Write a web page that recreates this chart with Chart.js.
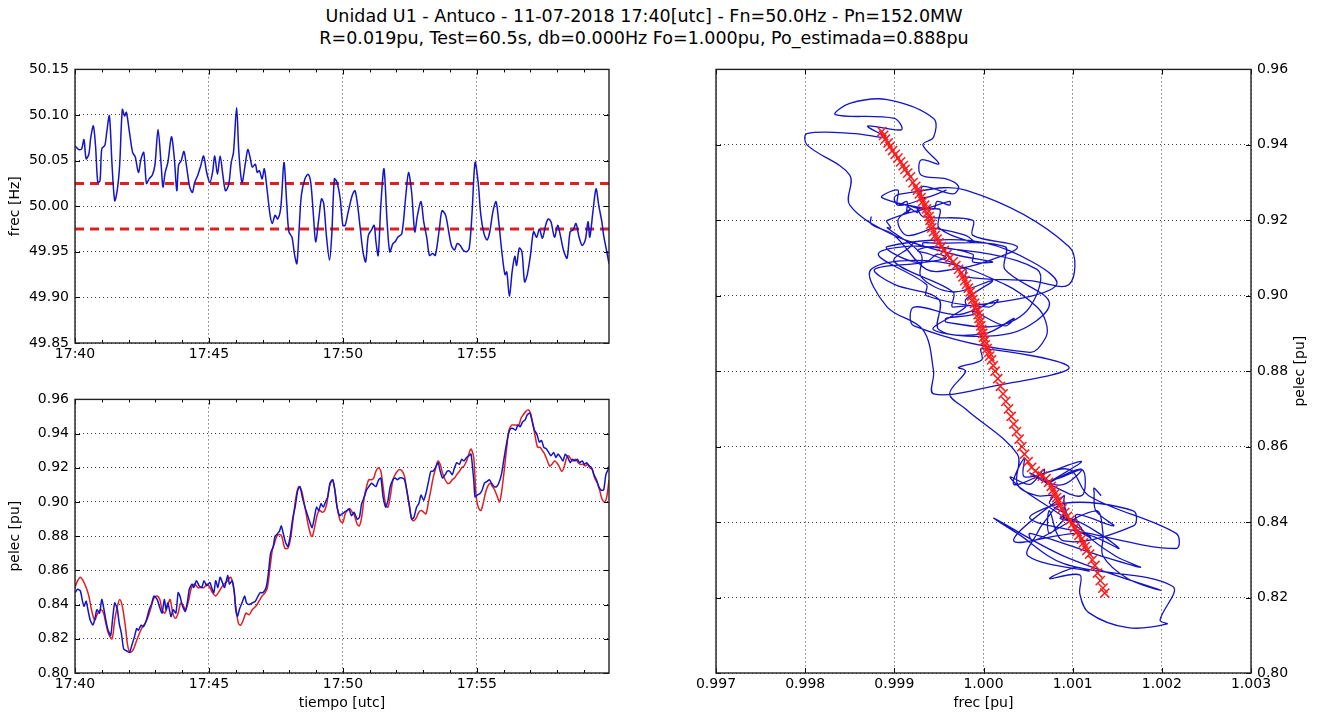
<!DOCTYPE html>
<html><head><meta charset="utf-8">
<script src="https://cdn.jsdelivr.net/npm/chart.js@4.4.1/dist/chart.umd.min.js"></script>
<style>
html,body{margin:0;padding:0;background:#fff;width:1317px;height:718px;overflow:hidden;}
#title{position:absolute;left:0;top:5px;width:1288px;text-align:center;font-family:'DejaVu Sans',sans-serif;font-size:17.5px;line-height:22px;color:#000;}
canvas{position:absolute;}
</style></head><body>
<div id="title">Unidad U1 - Antuco - 11-07-2018 17:40[utc] - Fn=50.0Hz - Pn=152.0MW<br>R=0.019pu, Test=60.5s, db=0.000Hz Fo=1.000pu, Po_estimada=0.888pu</div>
<canvas id="c1" width="625" height="315" style="left:0;top:55px"></canvas>
<canvas id="c2" width="625" height="333" style="left:0;top:385px"></canvas>
<canvas id="c3" width="627" height="663" style="left:690px;top:55px"></canvas>
<script>
// ---------- data ----------
const Fn = 50.0;
const tEnd = 1196;                       // seconds after 17:40
const tickSeconds = [0, 300, 600, 900];
const tickLabels = ['17:40', '17:45', '17:50', '17:55'];
const freqTicks = [49.85, 49.90, 49.95, 50.00, 50.05, 50.10, 50.15];
const pelecTicks = [0.80, 0.82, 0.84, 0.86, 0.88, 0.90, 0.92, 0.94, 0.96];
const frecPuTicks = [0.997, 0.998, 0.999, 1.000, 1.001, 1.002, 1.003];
const bandUpper = 50.025, bandLower = 49.975;

const freqTime = [0,9,15,20,25,31,35,41,46,51,56,60,67,71,77,83,89,95,100,106,111,115,122,129,135,142,148,154,160,166,173,179,186,193,197,202,208,216,222,228,232,238,244,250,257,263,268,275,282,288,295,302,308,313,319,325,331,337,344,350,355,362,367,374,381,387,392,397,404,408,413,419,424,430,437,442,448,454,461,468,474,479,486,492,497,502,507,515,522,528,534,539,546,552,557,563,570,575,581,587,594,600,605,612,621,627,633,639,645,651,657,664,670,674,679,685,692,699,705,712,717,723,732,741,747,754,761,767,775,781,788,794,801,807,816,822,830,837,843,850,856,863,869,877,883,889,896,903,909,916,923,929,936,943,949,956,963,967,973,979,985,989,995,1001,1007,1013,1020,1027,1034,1040,1047,1054,1060,1066,1074,1081,1087,1094,1102,1109,1116,1122,1129,1136,1143,1149,1153,1160,1167,1173,1180,1184,1191,1196];
const freqHz = [50.066,50.062,50.063,50.073,50.052,50.057,50.074,50.088,50.066,50.026,
50.028,50.063,50.067,50.081,50.099,50.045,50.006,50.019,50.045,50.106,
50.099,50.103,50.081,50.059,50.054,50.037,50.052,50.059,50.025,50.030,
50.034,50.045,50.084,50.045,50.021,50.037,50.048,50.076,50.055,50.017,
50.045,50.050,50.060,50.043,50.021,50.015,50.026,50.034,50.045,50.055,
50.037,50.026,50.037,50.055,50.035,50.055,50.035,50.017,50.023,50.048,
50.059,50.108,50.059,50.026,50.045,50.062,50.054,50.043,50.046,50.037,
50.039,50.030,50.041,50.019,49.990,49.981,49.990,49.986,49.999,50.048,
50.005,49.972,49.966,49.946,49.937,49.975,50.012,50.030,50.035,50.026,
49.990,49.961,49.986,50.008,50.003,49.968,49.941,49.968,50.030,50.026,
50.008,49.979,49.979,49.994,50.012,50.017,50.001,49.975,49.950,49.939,
49.968,49.974,49.979,49.961,49.946,50.001,50.041,49.983,49.950,49.959,
49.961,49.966,49.970,50.012,50.037,50.015,49.972,49.990,50.005,49.983,
49.965,49.946,49.948,49.946,49.975,49.995,49.990,49.972,49.957,49.952,
49.959,49.957,49.952,49.950,49.954,49.990,50.048,50.026,49.990,49.970,
49.963,49.972,49.994,50.005,49.983,49.950,49.925,49.928,49.901,49.928,
49.945,49.935,49.954,49.950,49.917,49.925,49.946,49.972,49.966,49.975,
49.965,49.979,49.986,49.983,49.966,49.979,49.968,49.952,49.943,49.972,
49.974,49.981,49.966,49.957,49.963,49.983,49.966,49.994,50.019,50.001,
49.983,49.968,49.950,49.937];

const pelecTime = [0,6,12,16,20,25,29,34,40,44,49,55,60,65,69,74,80,84,89,95,99,104,109,115,122,127,133,138,142,148,153,160,166,171,177,184,189,195,200,204,208,215,220,226,231,235,241,247,252,256,262,266,272,278,284,289,295,302,306,311,315,320,325,330,335,342,346,352,357,360,364,368,374,380,384,390,397,404,410,415,421,428,433,438,444,448,452,458,462,467,472,477,482,488,493,499,504,509,515,520,525,531,537,541,546,551,556,561,566,571,577,582,587,593,598,603,609,614,619,625,632,637,642,648,653,658,664,669,674,680,685,690,696,701,706,712,717,722,727,733,738,743,749,754,759,765,770,775,781,786,791,797,802,807,813,818,823,829,834,839,845,850,855,861,866,871,877,882,887,893,896,901,907,912,917,923,928,933,939,944,949,955,960,965,971,976,981,987,992,997,1003,1008,1013,1019,1024,1029,1034,1040,1045,1050,1056,1061,1066,1072,1077,1082,1088,1093,1098,1104,1109,1114,1120,1125,1130,1136,1141,1146,1152,1157,1162,1168,1173,1178,1184,1189,1194,1196];
const pelecMeas = [0.847,0.849,0.848,0.843,0.839,0.842,0.837,0.831,0.828,0.831,
0.837,0.835,0.843,0.837,0.831,0.825,0.822,0.831,0.841,0.837,
0.829,0.823,0.814,0.813,0.812,0.816,0.821,0.826,0.825,0.828,
0.827,0.831,0.837,0.840,0.845,0.843,0.839,0.835,0.843,0.837,
0.841,0.833,0.837,0.835,0.847,0.845,0.839,0.836,0.842,0.849,
0.852,0.850,0.854,0.851,0.850,0.854,0.851,0.853,0.850,0.847,
0.854,0.850,0.856,0.853,0.850,0.857,0.852,0.854,0.847,0.837,
0.833,0.837,0.841,0.845,0.841,0.840,0.841,0.842,0.845,0.847,
0.847,0.850,0.858,0.870,0.874,0.880,0.881,0.883,0.886,0.881,
0.876,0.874,0.880,0.891,0.897,0.907,0.909,0.903,0.897,0.893,
0.889,0.885,0.892,0.897,0.895,0.899,0.897,0.900,0.903,0.911,
0.913,0.907,0.897,0.892,0.893,0.894,0.895,0.896,0.892,0.894,
0.890,0.891,0.899,0.903,0.907,0.909,0.911,0.910,0.909,0.913,
0.914,0.903,0.897,0.901,0.909,0.913,0.914,0.913,0.914,0.914,
0.913,0.907,0.898,0.890,0.891,0.897,0.899,0.904,0.901,0.905,
0.911,0.918,0.918,0.920,0.923,0.918,0.914,0.916,0.918,0.918,
0.916,0.920,0.923,0.922,0.925,0.924,0.926,0.927,0.928,0.913,
0.903,0.904,0.905,0.907,0.911,0.912,0.913,0.911,0.909,0.909,
0.911,0.916,0.924,0.932,0.940,0.943,0.943,0.942,0.945,0.944,
0.947,0.948,0.951,0.952,0.947,0.942,0.940,0.935,0.936,0.932,
0.931,0.929,0.927,0.929,0.926,0.928,0.926,0.924,0.928,0.926,
0.923,0.925,0.924,0.925,0.923,0.924,0.922,0.923,0.921,0.920,
0.916,0.913,0.909,0.907,0.907,0.916,0.919,0.921];

const modelTime = [0,6,12,18,25,31,37,44,51,58,64,69,75,83,89,95,100,106,113,118,124,131,138,144,151,157,164,171,177,184,190,195,201,207,213,219,225,231,237,243,248,255,261,268,275,282,289,296,302,308,315,321,328,334,342,349,355,360,366,371,377,383,390,397,405,412,419,426,431,437,442,447,452,458,463,470,477,483,488,495,501,507,515,522,529,532,538,543,548,554,559,564,570,577,582,587,594,600,605,610,616,621,626,632,637,642,648,653,658,664,669,674,680,685,690,696,701,706,712,717,722,727,733,738,743,749,754,759,765,770,775,781,786,791,797,802,807,813,818,823,829,834,839,845,850,855,861,866,871,877,882,887,893,898,903,909,914,919,924,930,935,940,946,951,956,962,967,972,978,983,988,994,999,1004,1010,1015,1020,1026,1031,1036,1042,1047,1052,1058,1063,1068,1074,1079,1084,1090,1095,1100,1105,1111,1116,1121,1127,1132,1138,1143,1148,1153,1159,1164,1170,1175,1180,1186,1191,1196];
const pelecModel = [0.850,0.854,0.856,0.854,0.850,0.845,0.837,0.831,0.835,0.837,
0.835,0.829,0.823,0.820,0.831,0.839,0.843,0.839,0.827,0.816,
0.812,0.814,0.819,0.823,0.827,0.829,0.833,0.839,0.844,0.845,
0.843,0.837,0.835,0.839,0.843,0.835,0.832,0.835,0.841,0.839,
0.837,0.843,0.850,0.852,0.850,0.850,0.850,0.852,0.850,0.847,
0.845,0.847,0.850,0.852,0.854,0.856,0.850,0.839,0.829,0.828,
0.831,0.835,0.834,0.837,0.839,0.842,0.845,0.847,0.850,0.862,
0.872,0.876,0.880,0.881,0.880,0.873,0.873,0.879,0.889,0.903,
0.909,0.907,0.897,0.887,0.880,0.880,0.887,0.893,0.895,0.894,
0.895,0.899,0.909,0.913,0.907,0.897,0.889,0.888,0.893,0.895,
0.896,0.894,0.892,0.887,0.886,0.891,0.903,0.909,0.913,0.913,
0.914,0.918,0.920,0.918,0.909,0.898,0.897,0.903,0.913,0.916,
0.918,0.919,0.918,0.915,0.907,0.897,0.890,0.889,0.891,0.894,
0.895,0.894,0.893,0.899,0.907,0.914,0.919,0.924,0.922,0.917,
0.913,0.911,0.911,0.913,0.914,0.916,0.918,0.920,0.921,0.924,
0.928,0.931,0.926,0.905,0.897,0.895,0.899,0.905,0.909,0.911,
0.909,0.907,0.903,0.900,0.907,0.920,0.932,0.942,0.945,0.945,
0.945,0.945,0.949,0.951,0.953,0.954,0.952,0.945,0.938,0.932,
0.932,0.930,0.928,0.924,0.921,0.922,0.924,0.923,0.921,0.918,
0.920,0.925,0.927,0.925,0.924,0.925,0.923,0.922,0.922,0.921,
0.922,0.920,0.919,0.914,0.911,0.907,0.902,0.900,0.903,0.913];

// droop characteristic markers (frec pu, pelec pu)
const droopFpu = [0.99886,0.99888,0.99890,0.99893,0.99895,0.99898,0.99901,0.99904,0.99907,0.99910,0.99912,0.99915,0.99918,0.99921,0.99924,0.99926,0.99928,0.99930,0.99932,0.99934,0.99936,0.99937,0.99939,0.99940,0.99941,0.99942,0.99944,0.99946,0.99948,0.99950,0.99953,0.99956,0.99959,0.99962,0.99966,0.99969,0.99972,0.99975,0.99977,0.99979,0.99981,0.99983,0.99985,0.99987,0.99988,0.99990,0.99991,0.99993,0.99994,0.99995,0.99996,0.99997,0.99998,0.99999,1.00000,1.00001,1.00002,1.00004,1.00006,1.00007,1.00009,1.00011,1.00013,1.00016,1.00019,1.00022,1.00025,1.00028,1.00031,1.00034,1.00037,1.00040,1.00043,1.00046,1.00050,1.00054,1.00058,1.00062,1.00066,1.00070,1.00073,1.00076,1.00078,1.00080,1.00082,1.00084,1.00086,1.00088,1.00091,1.00094,1.00097,1.00100,1.00102,1.00105,1.00107,1.00110,1.00112,1.00114,1.00116,1.00119,1.00122,1.00125,1.00128,1.00131,1.00134,1.00136];
const droopP = [0.9435,0.9425,0.9415,0.9405,0.9395,0.9385,0.9375,0.9365,0.9355,0.9345,0.9335,0.9325,0.9315,0.9300,0.9290,0.9280,0.9270,0.9260,0.9250,0.9240,0.9230,0.9220,0.9210,0.9200,0.9190,0.9180,0.9170,0.9160,0.9150,0.9140,0.9130,0.9120,0.9110,0.9100,0.9090,0.9080,0.9070,0.9060,0.9050,0.9040,0.9030,0.9020,0.9010,0.9000,0.8990,0.8980,0.8970,0.8960,0.8950,0.8940,0.8930,0.8920,0.8910,0.8900,0.8890,0.8880,0.8870,0.8860,0.8850,0.8840,0.8830,0.8815,0.8800,0.8780,0.8760,0.8740,0.8720,0.8700,0.8680,0.8660,0.8640,0.8620,0.8600,0.8580,0.8560,0.8545,0.8535,0.8528,0.8522,0.8515,0.8505,0.8495,0.8485,0.8475,0.8465,0.8455,0.8445,0.8435,0.8425,0.8415,0.8405,0.8395,0.8385,0.8375,0.8365,0.8355,0.8345,0.8335,0.8325,0.8315,0.8300,0.8285,0.8265,0.8245,0.8225,0.8212];

// ---------- styles ----------
const BLUE = '#1414c8', RED = '#e02020', MARK = '#ff1a1a';
const FF = "'DejaVu Sans', sans-serif";
Chart.defaults.font.family = FF;
Chart.defaults.font.size = 14;
Chart.defaults.color = '#000';
const gridOpts = {color:'rgba(0,0,0,0.75)', lineWidth:1, drawTicks:false};
const borderOpts = {display:false, dash:[1,3]};

const framePlugin = {
  id: 'frame',
  afterDatasetsDraw(chart, args, opts) {
    const {ctx, chartArea: a, scales} = chart;
    const xs = scales.x, ys = scales.y;
    ctx.save();
    ctx.setLineDash([]);
    ctx.strokeStyle = '#000';
    ctx.lineWidth = 1;
    ctx.beginPath();
    xs.ticks.forEach((t, i) => {
      const p = Math.round(xs.getPixelForTick(i)) + 0.5;
      ctx.moveTo(p, a.bottom); ctx.lineTo(p, a.bottom - 5);
      ctx.moveTo(p, a.top); ctx.lineTo(p, a.top + 5);
    });
    ys.ticks.forEach((t, i) => {
      const p = Math.round(ys.getPixelForTick(i)) + 0.5;
      ctx.moveTo(a.left, p); ctx.lineTo(a.left + 5, p);
      ctx.moveTo(a.right, p); ctx.lineTo(a.right - 5, p);
    });
    if (opts.minorStep) {
      for (let v = xs.min + opts.minorStep; v < xs.max; v += opts.minorStep) {
        const p = Math.round(xs.getPixelForValue(v)) + 0.5;
        ctx.moveTo(p, a.bottom); ctx.lineTo(p, a.bottom - 3);
        ctx.moveTo(p, a.top); ctx.lineTo(p, a.top + 3);
      }
    }
    ctx.stroke();
    ctx.strokeStyle = '#222';
    ctx.lineWidth = 1.4;
    ctx.strokeRect(a.left, a.top, a.right - a.left, a.bottom - a.top);
    if (opts.rightTitle) {
      ctx.fillStyle = '#000';
      ctx.font = '14px ' + FF;
      ctx.textAlign = 'center';
      ctx.textBaseline = 'middle';
      ctx.translate(a.right + 49, (a.top + a.bottom) / 2);
      ctx.rotate(-Math.PI / 2);
      ctx.fillText(opts.rightTitle, 0, 0);
    }
    ctx.restore();
  }
};

function timeAxis(height, title) {
  return {
    type: 'linear', min: 0, max: tEnd,
    afterBuildTicks: s => { s.ticks = tickSeconds.map(v => ({value: v})); },
    afterFit: s => { s.height = height; },
    grid: gridOpts, border: borderOpts,
    ticks: {padding: 3, maxRotation: 0, autoSkip: false, callback: (v, i) => tickLabels[i]},
    title: title ? {display: true, text: title, padding: {top: 0, bottom: 6}} : {display: false}
  };
}
function valueAxis(min, max, ticksArr, digits, title, width, pos) {
  return {
    type: 'linear', min: min, max: max, position: pos || 'left',
    afterBuildTicks: s => { s.ticks = ticksArr.map(v => ({value: v})); },
    afterFit: s => { s.width = width; },
    grid: gridOpts, border: borderOpts,
    ticks: {padding: 6, autoSkip: false, callback: (v, i) => ticksArr[i].toFixed(digits)},
    title: title ? {display: true, text: title, padding: {top: 7, bottom: 0}} : {display: false}
  };
}

const common = {responsive: false, animation: false, maintainAspectRatio: false,
  plugins: {legend: {display: false}, tooltip: {enabled: false}}};

// ---------- chart 1: frequency ----------
new Chart(document.getElementById('c1'), {
  type: 'line',
  data: {datasets: [
    {data: freqTime.map((t, i) => ({x: t, y: freqHz[i]})), borderColor: BLUE, borderWidth: 1.5, pointRadius: 0, tension: 0.3},
    {data: [{x: 0, y: bandUpper}, {x: tEnd, y: bandUpper}], borderColor: RED, borderWidth: 3, borderDash: [9, 6], pointRadius: 0},
    {data: [{x: 0, y: bandLower}, {x: tEnd, y: bandLower}], borderColor: RED, borderWidth: 3, borderDash: [9, 6], pointRadius: 0}
  ]},
  options: Object.assign({}, common, {
    layout: {padding: {top: 12, right: 16, left: 0, bottom: 0}},
    scales: {x: timeAxis(27, null), y: valueAxis(49.85, 50.15, freqTicks, 2, 'frec [Hz]', 75)},
    plugins: Object.assign({}, common.plugins, {frame: {minorStep: 60}})
  }),
  plugins: [framePlugin]
});

// ---------- chart 2: pelec ----------
new Chart(document.getElementById('c2'), {
  type: 'line',
  data: {datasets: [
    {data: pelecTime.map((t, i) => ({x: t, y: pelecMeas[i]})), borderColor: BLUE, borderWidth: 1.5, pointRadius: 0, tension: 0.2},
    {data: modelTime.map((t, i) => ({x: t, y: pelecModel[i]})), borderColor: RED, borderWidth: 1.5, pointRadius: 0, tension: 0.3}
  ]},
  options: Object.assign({}, common, {
    layout: {padding: {top: 13, right: 16, left: 0, bottom: 0}},
    scales: {x: timeAxis(45, 'tiempo [utc]'), y: valueAxis(0.80, 0.96, pelecTicks, 2, 'pelec [pu]', 75)},
    plugins: Object.assign({}, common.plugins, {frame: {minorStep: 60}})
  }),
  plugins: [framePlugin]
});

// ---------- chart 3: pelec vs frec ----------
const phase = pelecTime.map((t, i) => {
  let best = 0;
  freqTime.forEach((ft, j) => { if (Math.abs(ft - t) < Math.abs(freqTime[best] - t)) best = j; });
  return {x: freqHz[best] / Fn, y: pelecMeas[i]};
});
const droop = droopFpu.map((f, i) => ({x: f, y: droopP[i]}));
const xAx3 = valueAxis(0.997, 1.003, frecPuTicks, 3, null, 0);
delete xAx3.position;
xAx3.afterFit = s => { s.height = 45; };
xAx3.ticks.padding = 3;
xAx3.title = {display: true, text: 'frec [pu]', padding: {top: 0, bottom: 6}};
new Chart(document.getElementById('c3'), {
  type: 'scatter',
  data: {datasets: [
    {data: droop, showLine: false, pointStyle: 'crossRot', pointRadius: 6.5, borderColor: MARK, backgroundColor: MARK, pointBorderWidth: 1.5},
    {data: phase, showLine: true, borderColor: BLUE, borderWidth: 1.3, pointRadius: 0, tension: 0.35}
  ]},
  options: Object.assign({}, common, {
    layout: {padding: {top: 12, right: 0, left: 26, bottom: 0}},
    scales: {x: xAx3, y: valueAxis(0.80, 0.96, pelecTicks, 2, null, 66, 'right')},
    plugins: Object.assign({}, common.plugins, {frame: {rightTitle: 'pelec [pu]'}})
  }),
  plugins: [framePlugin]
});
</script>
</body></html>
